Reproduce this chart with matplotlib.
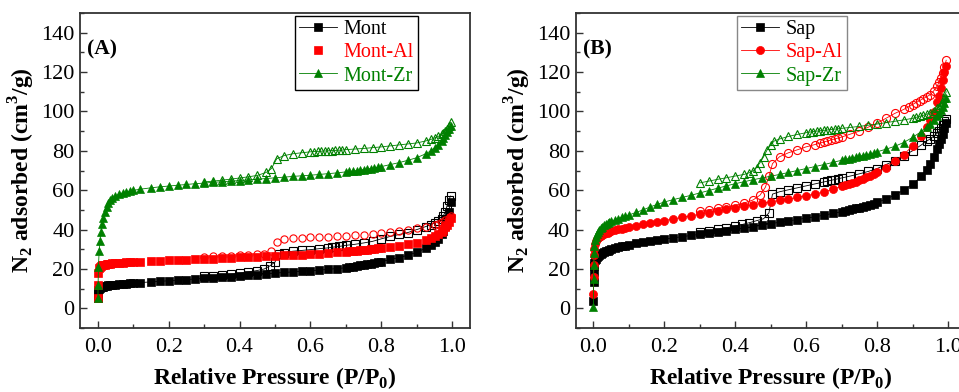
import matplotlib
matplotlib.use('Agg')
import matplotlib.pyplot as plt
from matplotlib.ticker import MultipleLocator

plt.rcParams['font.family'] = ['Liberation Serif', 'DejaVu Serif']
plt.rcParams['mathtext.fontset'] = 'custom'
plt.rcParams['mathtext.rm'] = 'Liberation Serif'
plt.rcParams['mathtext.bf'] = 'Liberation Serif:bold'

# ---- (A) montmorillonite samples ----
p_ads_a = [0.0005, 0.001, 0.002, 0.004, 0.006, 0.009, 0.012, 0.016, 0.02, 0.025,
           0.03, 0.035, 0.04, 0.05, 0.06, 0.07, 0.08, 0.09, 0.10, 0.12,
           0.15, 0.175, 0.20, 0.225, 0.25, 0.275, 0.30, 0.325, 0.35, 0.375,
           0.40, 0.425, 0.45, 0.475, 0.50, 0.525, 0.55, 0.575, 0.60, 0.625,
           0.65, 0.675, 0.70, 0.71, 0.72, 0.73, 0.74, 0.75, 0.76, 0.77,
           0.78, 0.79, 0.80, 0.825, 0.85, 0.875, 0.90, 0.925, 0.94, 0.95,
           0.96, 0.97, 0.975, 0.98, 0.985, 0.99, 0.995]
mont_ads = [5, 8, 9.5, 10, 10.3, 10.6, 10.8, 11, 11.2, 11.4,
            11.6, 11.7, 11.8, 12, 12.2, 12.4, 12.5, 12.7, 12.8, 13.1,
            13.4, 13.7, 14, 14.3, 14.6, 14.9, 15.2, 15.5, 15.8, 16.1,
            16.4, 16.8, 17.1, 17.5, 17.9, 18.2, 18.5, 18.8, 19.1, 19.4,
            19.8, 20.2, 20.6, 20.9, 21.2, 21.5, 21.8, 22.1, 22.4, 22.7,
            23.0, 23.3, 23.7, 24.8, 25.8, 27.0, 28.5, 30.5, 32, 33.5,
            35, 37.5, 39.5, 42, 45, 49, 54]
mont_al_ads = [5, 12, 18, 20.5, 21, 21.5, 21.8, 22, 22.2, 22.4,
               22.6, 22.7, 22.8, 23, 23.1, 23.2, 23.3, 23.4, 23.5, 23.7,
               23.9, 24.1, 24.3, 24.5, 24.7, 24.9, 25.1, 25.3, 25.5, 25.7,
               25.9, 26.1, 26.3, 26.5, 26.7, 26.9, 27.1, 27.3, 27.5, 27.8,
               28.1, 28.4, 28.7, 28.9, 29.0, 29.2, 29.4, 29.6, 29.8, 30.0,
               30.2, 30.4, 30.6, 31.2, 31.8, 32.5, 33.3, 34.5, 35.5, 36.5,
               37.5, 39, 40, 41.2, 42.5, 44, 46]
mont_zr_ads = [5, 12, 21, 29, 34, 39, 43, 46, 49, 51.5,
               53.5, 55, 56, 57, 58, 58.6, 59.1, 59.5, 59.9, 60.5,
               61.2, 61.7, 62.1, 62.5, 62.9, 63.3, 63.6, 64, 64.3, 64.6,
               64.9, 65.2, 65.6, 65.9, 66.3, 66.6, 67, 67.3, 67.6, 68,
               68.4, 68.8, 69.3, 69.5, 69.7, 70, 70.2, 70.5, 70.7, 71,
               71.3, 71.6, 72, 73, 74, 75.2, 76.5, 78.5, 80, 81.5,
               83, 85, 86.5, 88, 89.5, 91, 92.5]

p_des_mont = [0.995, 0.99, 0.985, 0.98, 0.975, 0.97, 0.96, 0.95, 0.94, 0.925,
              0.90, 0.875, 0.85, 0.825, 0.80, 0.775, 0.75, 0.725, 0.70, 0.69,
              0.68, 0.67, 0.66, 0.65, 0.625, 0.60, 0.575, 0.55, 0.525, 0.51,
              0.50, 0.485, 0.47, 0.45, 0.425, 0.40, 0.375, 0.35, 0.325, 0.30]
mont_des = [57, 55, 52, 49, 47, 45.5, 44.5, 43.5, 42.5, 41.5,
            40, 38.5, 37.5, 36.5, 35.3, 34, 33.2, 32.5, 32, 31.7,
            31.4, 31.2, 31, 30.7, 30.3, 29.8, 29.4, 29, 28.3, 27.5,
            23.5, 21.5, 20, 19.2, 18.5, 17.8, 17.3, 17, 16.6, 16.2]

p_des_mont_al = [0.995, 0.99, 0.98, 0.97, 0.96, 0.95, 0.925, 0.90, 0.875, 0.85,
                 0.825, 0.80, 0.775, 0.75, 0.725, 0.70, 0.675, 0.65, 0.625, 0.60,
                 0.575, 0.55, 0.525, 0.505, 0.49, 0.47, 0.45, 0.425, 0.40, 0.375,
                 0.35, 0.325, 0.30]
mont_al_des = [47, 46, 45, 44, 43, 42.5, 41.5, 40.8, 40, 39.3,
               38.7, 38.2, 37.8, 37.4, 37.1, 36.8, 36.6, 36.4, 36.2, 36,
               35.8, 35.5, 35.2, 33.5, 29, 27.8, 27.4, 27.2, 27, 26.8,
               26.6, 26.4, 26.2]

p_des_mont_zr = [0.995, 0.99, 0.985, 0.98, 0.975, 0.97, 0.96, 0.95, 0.94, 0.925,
                 0.90, 0.875, 0.85, 0.825, 0.80, 0.775, 0.75, 0.725, 0.70, 0.69,
                 0.68, 0.67, 0.66, 0.65, 0.64, 0.63, 0.62, 0.61, 0.60, 0.575,
                 0.55, 0.525, 0.505, 0.49, 0.475, 0.45, 0.425, 0.40, 0.375, 0.35,
                 0.325, 0.30]
mont_zr_des = [94.5, 92.5, 91, 90, 89, 88.3, 87.3, 86.5, 85.8, 85,
               84, 83.5, 83, 82.5, 82, 81.6, 81.2, 80.9, 80.6, 80.4,
               80.3, 80.2, 80.1, 80, 79.9, 79.8, 79.7, 79.6, 79.5, 79,
               78.5, 77.5, 76, 71, 69, 67.5, 66.8, 66.2, 65.6, 65.1,
               64.6, 64.2]

# ---- (B) saponite samples ----
p_ads_b = [0.0002, 0.0005, 0.001, 0.002, 0.003, 0.005, 0.007, 0.01, 0.013, 0.016,
           0.02, 0.025, 0.03, 0.035, 0.04, 0.045, 0.05, 0.06, 0.07, 0.08,
           0.09, 0.10, 0.12, 0.14, 0.16, 0.18, 0.20, 0.225, 0.25, 0.275,
           0.30, 0.325, 0.35, 0.375, 0.40, 0.425, 0.45, 0.475, 0.50, 0.525,
           0.55, 0.575, 0.60, 0.625, 0.65, 0.675, 0.70, 0.71, 0.72, 0.73,
           0.74, 0.75, 0.76, 0.77, 0.78, 0.79, 0.80, 0.825, 0.85, 0.875,
           0.90, 0.925, 0.94, 0.95, 0.96, 0.97, 0.975, 0.98, 0.985, 0.99,
           0.995]
sap_ads = [3.7, 13.5, 18.5, 21.5, 23, 24.5, 25.3, 26.1, 26.7, 27.2,
           27.7, 28.2, 28.6, 29, 29.3, 29.6, 29.9, 30.5, 31, 31.5,
           31.9, 32.3, 33, 33.6, 34.2, 34.7, 35.2, 35.8, 36.4, 37,
           37.6, 38.2, 38.8, 39.4, 40.1, 40.8, 41.5, 42.2, 43, 43.7,
           44.4, 45.1, 45.8, 46.5, 47.3, 48.2, 49.1, 49.5, 49.9, 50.3,
           50.8, 51.2, 51.7, 52.2, 52.7, 53.2, 53.8, 55.5, 57.5, 60,
           63, 67, 70.5, 73.5, 77, 81, 83.5, 86, 88.5, 91.5,
           94]
sap_al_ads = [7.5, 16, 22, 27, 30, 32.5, 34, 35, 35.8, 36.4,
              36.9, 37.4, 37.8, 38.2, 38.5, 38.8, 39.1, 39.6, 40.1, 40.5,
              40.9, 41.3, 42, 42.7, 43.4, 44, 44.6, 45.4, 46.2, 47,
              47.8, 48.6, 49.4, 50.2, 51, 51.8, 52.6, 53.4, 54.1, 54.8,
              55.5, 56.3, 57.2, 58.1, 59.1, 60.5, 62, 62.6, 63.2, 63.8,
              64.4, 65.1, 65.8, 66.5, 67.3, 68.1, 69, 71.5, 75, 78,
              82.5, 87.5, 92, 95.5, 99.5, 105, 108, 112, 116, 120,
              123]
sap_zr_ads = [0.7, 15, 22, 28, 31.5, 34.5, 36.3, 37.8, 38.9, 39.8,
              40.6, 41.4, 42.1, 42.7, 43.2, 43.7, 44.1, 44.9, 45.6, 46.2,
              46.8, 47.4, 48.7, 50, 51.5, 52.8, 54, 55.2, 56.3, 57.4,
              58.6, 59.8, 61, 62.2, 63.3, 64.3, 65.3, 66.2, 67.1, 68,
              69, 70, 71, 72, 73, 74.1, 75.2, 75.6, 76, 76.4,
              76.8, 77.2, 77.6, 78, 78.4, 78.9, 79.5, 80.8, 82.3, 84.2,
              86.8, 89.8, 92, 93.5, 95.5, 97.5, 99, 100.5, 102.5, 104.5,
              107]

p_des_sap = [0.995, 0.99, 0.985, 0.98, 0.975, 0.97, 0.96, 0.95, 0.94, 0.925,
             0.90, 0.875, 0.85, 0.825, 0.80, 0.775, 0.75, 0.725, 0.70, 0.69,
             0.68, 0.67, 0.66, 0.65, 0.625, 0.60, 0.575, 0.55, 0.525, 0.505,
             0.495, 0.48, 0.46, 0.44, 0.42, 0.40, 0.375, 0.35, 0.325, 0.30]
sap_des = [96, 95, 93, 91.5, 90, 89, 87.5, 86, 85, 83,
           80, 77.5, 75, 73, 71, 69.5, 68.3, 67.2, 66.2, 65.8,
           65.4, 65, 64.6, 64.2, 63.2, 62.2, 61.2, 60.2, 59.2, 58,
           48.5, 45.5, 44.5, 43.5, 42.6, 41.8, 40.9, 40.1, 39.3, 38.6]

p_des_sap_al = [0.995, 0.99, 0.985, 0.98, 0.975, 0.97, 0.96, 0.95, 0.94, 0.93,
                0.92, 0.91, 0.90, 0.89, 0.875, 0.85, 0.825, 0.80, 0.775, 0.75,
                0.725, 0.70, 0.69, 0.68, 0.67, 0.66, 0.65, 0.64, 0.625, 0.60,
                0.575, 0.55, 0.525, 0.505, 0.495, 0.485, 0.47, 0.45, 0.425, 0.40,
                0.375, 0.35, 0.325, 0.30]
sap_al_des = [126, 122.5, 119.5, 117, 115, 113, 110.5, 108.5, 107.5, 106.5,
              105.5, 104.5, 103.5, 102.5, 101, 99, 96.5, 94, 92, 90,
              88.5, 87, 86.5, 86, 85.5, 85, 84.5, 84, 83.2, 82,
              80.5, 79, 77, 73.5, 67, 61.5, 57.5, 55, 53.5, 52.3,
              51.5, 50.8, 50, 49.3]

p_des_sap_zr = [0.995, 0.99, 0.985, 0.98, 0.975, 0.97, 0.96, 0.95, 0.94, 0.93,
                0.92, 0.91, 0.90, 0.875, 0.85, 0.825, 0.80, 0.775, 0.75, 0.725,
                0.70, 0.69, 0.68, 0.67, 0.66, 0.65, 0.64, 0.63, 0.62, 0.61,
                0.60, 0.575, 0.55, 0.525, 0.51, 0.50, 0.49, 0.48, 0.47, 0.46,
                0.45, 0.44, 0.425, 0.40, 0.375, 0.35, 0.325, 0.30]
sap_zr_des = [110, 107, 105, 103.5, 102.5, 101.5, 100.3, 99.3, 98.6, 98,
              97.5, 97, 96.5, 95.7, 95, 94.3, 93.6, 93, 92.4, 91.9,
              91.4, 91.2, 91, 90.8, 90.6, 90.4, 90.2, 90, 89.8, 89.5,
              89.2, 88.3, 87.3, 86, 85, 83, 80.5, 77, 74, 71.5,
              69.8, 68.9, 68, 67.2, 66.3, 65.5, 64.6, 63.7]

BLACK = '#000000'
RED = '#ff0000'
GREEN = '#008000'

SQ, TRI, CIRC = 5.2, 6.4, 5.8


def draw_branch(ax, p_ads, v_ads, p_des, v_des, color, marker, label, ms,
                des_marker=None, joined=True):
    ls = '-' if joined else 'none'
    ax.plot(p_des, v_des, linestyle=ls, linewidth=0.6, color=color,
            marker=des_marker or marker, markersize=ms, markerfacecolor='none',
            markeredgecolor=color, markeredgewidth=0.8)
    ax.plot(p_ads, v_ads, linestyle=ls, linewidth=0.6, color=color,
            marker=marker, markersize=ms, markerfacecolor=color,
            markeredgecolor=color, markeredgewidth=0.5, label=label)


def style_axes(ax, tag):
    ax.set_xlim(-0.05, 1.05)
    ax.set_ylim(-10, 150)
    ax.xaxis.set_major_locator(MultipleLocator(0.2))
    ax.xaxis.set_minor_locator(MultipleLocator(0.1))
    ax.yaxis.set_major_locator(MultipleLocator(20))
    ax.yaxis.set_minor_locator(MultipleLocator(10))
    ax.xaxis.set_major_formatter(plt.FormatStrFormatter('%.1f'))
    ax.tick_params(which='both', direction='in', top=False, right=False,
                   color='#333333', width=1.0, labelsize=16)
    ax.tick_params(which='major', length=5)
    ax.tick_params(which='minor', length=3)
    ax.tick_params(axis='x', pad=7)
    ax.tick_params(axis='y', pad=4)
    for sp in ax.spines.values():
        sp.set_color('#333333')
        sp.set_linewidth(1.3)
    ax.set_xlabel(r'Relative Pressure (P/P$_\mathbf{0}$)', fontsize=17,
                  fontweight='bold', labelpad=6)
    ax.set_ylabel(r'N$_\mathbf{2}$ adsorbed (cm$^\mathbf{3}$/g)', fontsize=17,
                  fontweight='bold', labelpad=3)
    ax.text(0.018, 0.883, tag, transform=ax.transAxes, fontsize=15.5,
            fontweight='bold', va='center', ha='left')


def add_legend(ax, loc, anchor, edge):
    leg = ax.legend(loc=loc, bbox_to_anchor=anchor, borderaxespad=0,
                    fontsize=14.5, labelcolor='linecolor', numpoints=1,
                    handlelength=1.9, handletextpad=0.3, labelspacing=0.2,
                    borderpad=0.2, fancybox=False, framealpha=1, edgecolor=edge)
    leg.get_frame().set_linewidth(1.0)


fig = plt.figure(figsize=(9.59, 3.92), dpi=100)
ax1 = fig.add_axes([80 / 959, 64 / 392, 390 / 959, 315 / 392])
ax2 = fig.add_axes([575.7 / 959, 64 / 392, 390 / 959, 315 / 392])

# Panel A
draw_branch(ax1, p_ads_a, mont_ads, p_des_mont, mont_des, BLACK, 's', 'Mont', SQ)
draw_branch(ax1, p_ads_a, mont_al_ads, p_des_mont_al, mont_al_des, RED, 's', 'Mont-Al',
            SQ, des_marker='o', joined=False)
draw_branch(ax1, p_ads_a, mont_zr_ads, p_des_mont_zr, mont_zr_des, GREEN, '^', 'Mont-Zr', TRI)
style_axes(ax1, '(A)')
add_legend(ax1, 'upper right', (0.866, 0.99), '#000000')

# Panel B
draw_branch(ax2, p_ads_b, sap_ads, p_des_sap, sap_des, BLACK, 's', 'Sap', SQ)
draw_branch(ax2, p_ads_b, sap_al_ads, p_des_sap_al, sap_al_des, RED, 'o', 'Sap-Al', CIRC)
draw_branch(ax2, p_ads_b, sap_zr_ads, p_des_sap_zr, sap_zr_des, GREEN, '^', 'Sap-Zr', TRI)
style_axes(ax2, '(B)')
add_legend(ax2, 'upper left', (0.414, 0.99), '#888888')

fig.savefig('out.png', dpi=100)
plt.close(fig)
